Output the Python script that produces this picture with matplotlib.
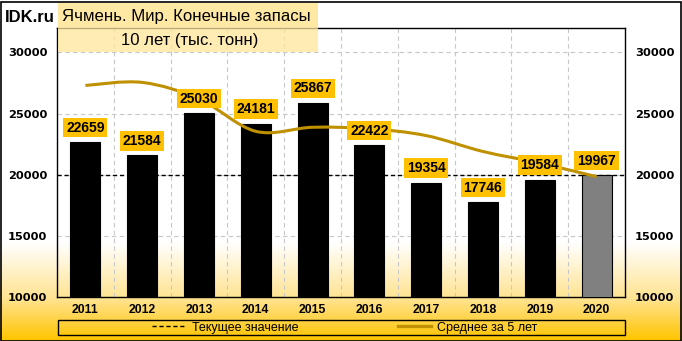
import numpy as np
import matplotlib
matplotlib.use("Agg")
import matplotlib.pyplot as plt
from matplotlib.path import Path
from matplotlib.patches import PathPatch, Rectangle
from matplotlib.colors import LinearSegmentedColormap
from matplotlib.lines import Line2D

years = ["2011", "2012", "2013", "2014", "2015", "2016", "2017", "2018", "2019", "2020"]
stocks = [22659, 21584, 25030, 24181, 25867, 22422, 19354, 17746, 19584, 19967]
avg5 = [27300, 27550, 26200, 23550, 23880, 23770, 23200, 21900, 20950, 19840]
current = 19967
yticks = [10000, 15000, 20000, 25000, 30000]

title1 = "Ячмень. Мир. Конечные запасы"
title2 = "10 лет (тыс. тонн)"
legend_labels = ["Текущее значение", "Среднее за 5 лет"]

W, H = 682, 341
fig = plt.figure(figsize=(W / 100, H / 100), dpi=100)

# background gradient (white -> yellow at the bottom)
bg = fig.add_axes([0, 0, 1, 1], zorder=-10)
cmap = LinearSegmentedColormap.from_list(
    "bg", [(0, "#FFFFFF"), (243 / H, "#FFFFFF"), (300 / H, "#FFE38F"), (1, "#FFC400")])
grad = np.linspace(0, 1, 400).reshape(-1, 1)
bg.imshow(grad, aspect="auto", cmap=cmap, extent=[0, 1, 0, 1], origin="upper")
bg.set_xlim(0, 1)
bg.set_ylim(0, 1)
bg.axis("off")
fig.patches.append(Rectangle((0.5 / W, 0.5 / H), 1 - 2 / W, 1 - 2 / H, transform=fig.transFigure,
                             fill=False, edgecolor="black", lw=1.2, zorder=5))

ax = fig.add_axes([57 / W, (H - 297) / H, (625 - 57) / W, (297 - 28) / H])
ax.set_facecolor("none")
x = np.arange(len(years))

colors = ["black"] * (len(years) - 1) + ["#808080"]
ax.bar(x, stocks, width=0.53, color=colors, edgecolor="black", lw=0.8, zorder=3)
ax.axhline(current, color="black", ls=(0, (3, 2)), lw=1.0, zorder=2)

# smooth line through 5-year averages (Catmull-Rom -> cubic Bezier)
pts = np.column_stack([x, avg5]).astype(float)
verts = [tuple(pts[0])]
codes = [Path.MOVETO]
for i in range(len(pts) - 1):
    p0 = pts[max(i - 1, 0)]
    p1 = pts[i]
    p2 = pts[i + 1]
    p3 = pts[min(i + 2, len(pts) - 1)]
    c1 = p1 + (p2 - p0) / 6
    c2 = p2 - (p3 - p1) / 6
    verts += [tuple(c1), tuple(c2), tuple(p2)]
    codes += [Path.CURVE4] * 3
ax.add_patch(PathPatch(Path(verts, codes), fill=False, edgecolor="#BF9000", lw=2.2,
                       zorder=4, capstyle="butt"))

for xi, v in zip(x, stocks):
    ax.annotate(f"{v}", (xi, v), xytext=(0, 10.5), textcoords="offset points",
                ha="center", va="center", fontsize=10, fontweight="bold",
                family="Liberation Sans", zorder=6,
                bbox=dict(boxstyle="square,pad=0.2", fc="#FFC000", ec="none"))

ax.set_xlim(-0.5, len(years) - 0.5)
ax.set_ylim(10000, 32000)
ax.set_xticks(x)
ax.set_xticklabels(years, family="Liberation Sans", fontweight="bold", fontsize=8.8)
ax.set_yticks(yticks)
ax.set_yticklabels([str(t) for t in yticks], fontweight="bold", fontsize=8.2,
                   family="DejaVu Sans")
ax.tick_params(axis="x", length=0, pad=5)
ax.tick_params(axis="y", length=0, pad=7, labelright=True)

ax.set_xticks(np.arange(len(years) - 1) + 0.5, minor=True)
ax.tick_params(axis="x", which="minor", length=0)
ax.grid(True, which="minor", axis="x", color="#C8C8C8", ls=(0, (4, 3)), lw=0.8, zorder=0)
ax.grid(True, which="major", axis="y", color="#C8C8C8", ls=(0, (4, 3)), lw=0.8, zorder=0)
for s in ax.spines.values():
    s.set_color("black")
    s.set_linewidth(1.0)

# title boxes
fig.patches.append(Rectangle((58 / W, (H - 27) / H), 260 / W, 24 / H, transform=fig.transFigure,
                             fc="#FFE699", ec="none", alpha=0.9, zorder=6))
fig.patches.append(Rectangle((58 / W, (H - 52) / H), 260 / W, 25 / H, transform=fig.transFigure,
                             fc="#FFE699", ec="none", alpha=0.75, zorder=6))
fig.text(62 / W, (H - 16) / H, title1, fontsize=12.1, family="Liberation Sans",
         ha="left", va="center", zorder=7)
fig.text(190 / W, (H - 40) / H, title2, fontsize=12, family="Liberation Sans",
         ha="center", va="center", zorder=7)
fig.text(5 / W, (H - 17) / H, "IDK.ru", fontsize=12, fontweight="bold",
         family="Liberation Sans", ha="left", va="center")

# legend
fig.patches.append(Rectangle((58 / W, (H - 335) / H), 567 / W, 15 / H, transform=fig.transFigure,
                             fill=False, ec="black", lw=1.0, zorder=6))
handles = [Line2D([], [], color="black", ls=(0, (3, 2)), lw=1.0),
           Line2D([], [], color="#BF9000", lw=2.4)]
fig.legend(handles, legend_labels, loc="center", bbox_to_anchor=(345 / W, (H - 327.5) / H),
           ncol=2, frameon=False, columnspacing=8.0, handlelength=2.6, handletextpad=0.55,
           prop={"family": "Liberation Sans", "size": 9},
           borderpad=0, borderaxespad=0)

fig.savefig("out.png", dpi=100)
